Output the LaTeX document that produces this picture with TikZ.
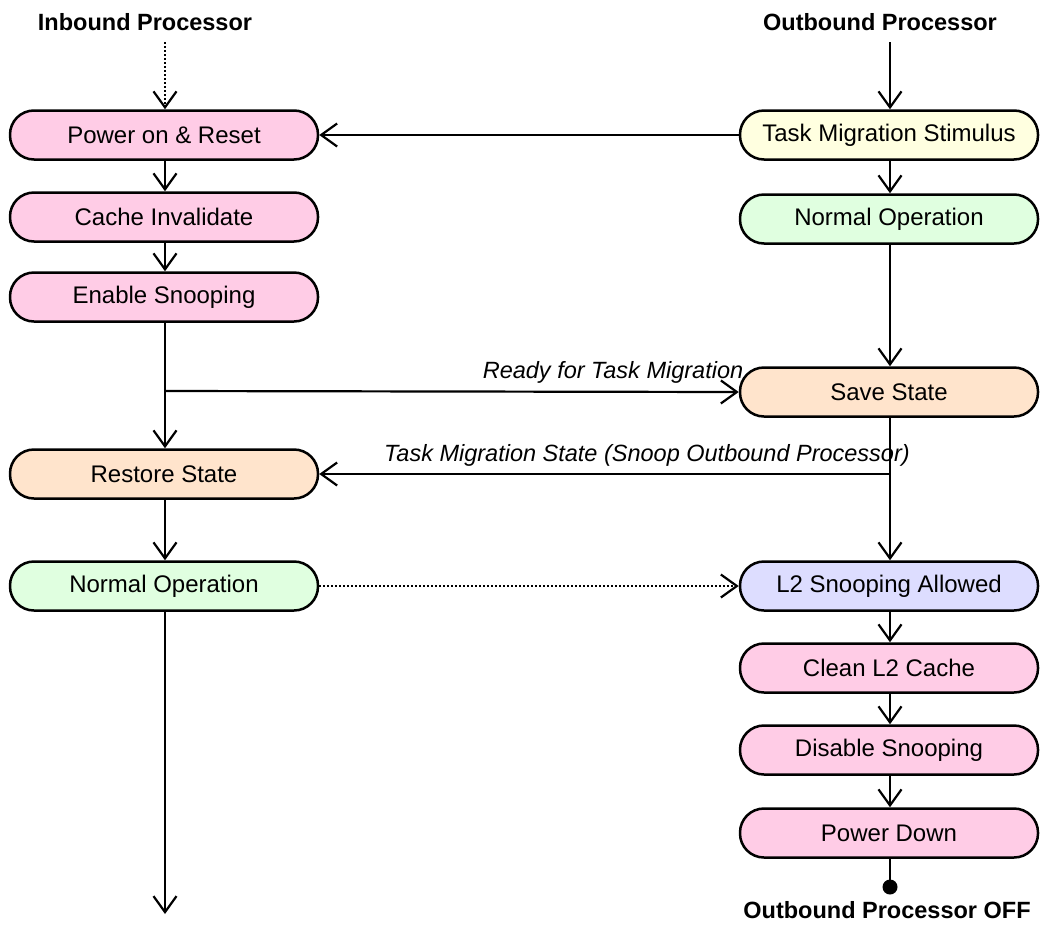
\documentclass[tikz,border=0pt]{standalone}
\usepackage{fontspec}
\setmainfont{Liberation Sans}
\usetikzlibrary{arrows.meta}
\definecolor{cpink}{RGB}{255,204,230}
\definecolor{cyellow}{RGB}{255,255,224}
\definecolor{cgreen}{RGB}{224,255,224}
\definecolor{cpeach}{RGB}{255,228,204}
\definecolor{clav}{RGB}{221,221,255}
\tikzset{
  box/.style={draw=black, line width=2.5pt, rounded corners=24pt, minimum height=49pt, inner sep=0pt, font=\fontsize{24}{28}\selectfont},
  lbox/.style={box, minimum width=308pt},
  rbox/.style={box, minimum width=298pt},
  conn/.style={line width=2.2pt, -{Straight Barb[length=16pt,width=23pt,line width=2.2pt]}},
  plain/.style={line width=2.2pt},
  dots/.style={dash pattern=on 2pt off 2pt},
  ttl/.style={font=\fontsize{23.5}{28}\selectfont\bfseries},
  lbl/.style={font=\fontsize{23.5}{28}\selectfont\itshape, inner sep=0pt}
}
\begin{document}
\begin{tikzpicture}[x=1pt,y=-1pt]
\useasboundingbox (0,0) rectangle (1041,924);
% titles
\node[ttl] (tin) at (145,22) {Inbound Processor};
\node[ttl] (tout) at (880,22) {Outbound Processor};
\coordinate (inS) at (165,42);
\coordinate (outS) at (890,42);
% left column
\node[lbox, fill=cpink] (pr) at (164,135) {Power on \& Reset};
\node[lbox, fill=cpink] (ci) at (164,217) {Cache Invalidate};
\node[lbox, fill=cpink] (es) at (164,297) {Enable Snooping};
\node[lbox, fill=cpeach] (rs) at (164,474) {Restore State};
\node[lbox, fill=cgreen] (nl) at (164,586) {Normal Operation};
\coordinate (inE) at (165,914);
% right column
\node[rbox, fill=cyellow] (tms) at (889,135) {Task Migration Stimulus};
\node[rbox, fill=cgreen] (nr) at (889,219) {Normal Operation};
\node[rbox, fill=cpeach] (ss) at (889,392) {Save State};
\node[rbox, fill=clav] (l2) at (889,586) {L2 Snooping Allowed};
\node[rbox, fill=cpink] (cl) at (889,668) {Clean L2 Cache};
\node[rbox, fill=cpink] (ds) at (889,750) {Disable Snooping};
\node[rbox, fill=cpink] (pd) at (889,833) {Power Down};
\node[circle, fill=black, inner sep=0pt, minimum size=15pt] (dot) at (890,887) {};
\node[ttl] (off) at (887,910) {Outbound Processor OFF};
% left connectors
\draw[conn, dots] (inS) -- (pr.north -| inS);
\draw[conn] (pr.south -| inS) -- (ci.north -| inS);
\draw[conn] (ci.south -| inS) -- (es.north -| inS);
\draw[conn] (es.south -| inS) -- (rs.north -| inS);
\coordinate (br) at (165,391);
\draw[conn] (br) -- (ss.west);
\draw[conn] (rs.south -| inS) -- (nl.north -| inS);
\draw[conn] (nl.south -| inS) -- (inE);
% right connectors
\draw[conn] (outS) -- (tms.north -| outS);
\draw[conn] (tms.west) -- (pr.east);
\draw[conn] (tms.south -| outS) -- (nr.north -| outS);
\draw[conn] (nr.south -| outS) -- (ss.north -| outS);
\draw[conn] (ss.south -| outS) -- (l2.north -| outS);
\coordinate (tb) at (890,474);
\draw[conn] (tb) -- (rs.east);
\draw[conn, dots] (nl.east) -- (l2.west);
\draw[conn] (l2.south -| outS) -- (cl.north -| outS);
\draw[conn] (cl.south -| outS) -- (ds.north -| outS);
\draw[conn] (ds.south -| outS) -- (pd.north -| outS);
\draw[plain] (pd.south -| outS) -- (dot.center);
% labels
\node[lbl] (lready) at (613,372) {Ready for Task Migration};
\node[lbl] (lstate) at (647,455) {Task Migration State (Snoop Outbound Processor)};
\end{tikzpicture}
\end{document}
